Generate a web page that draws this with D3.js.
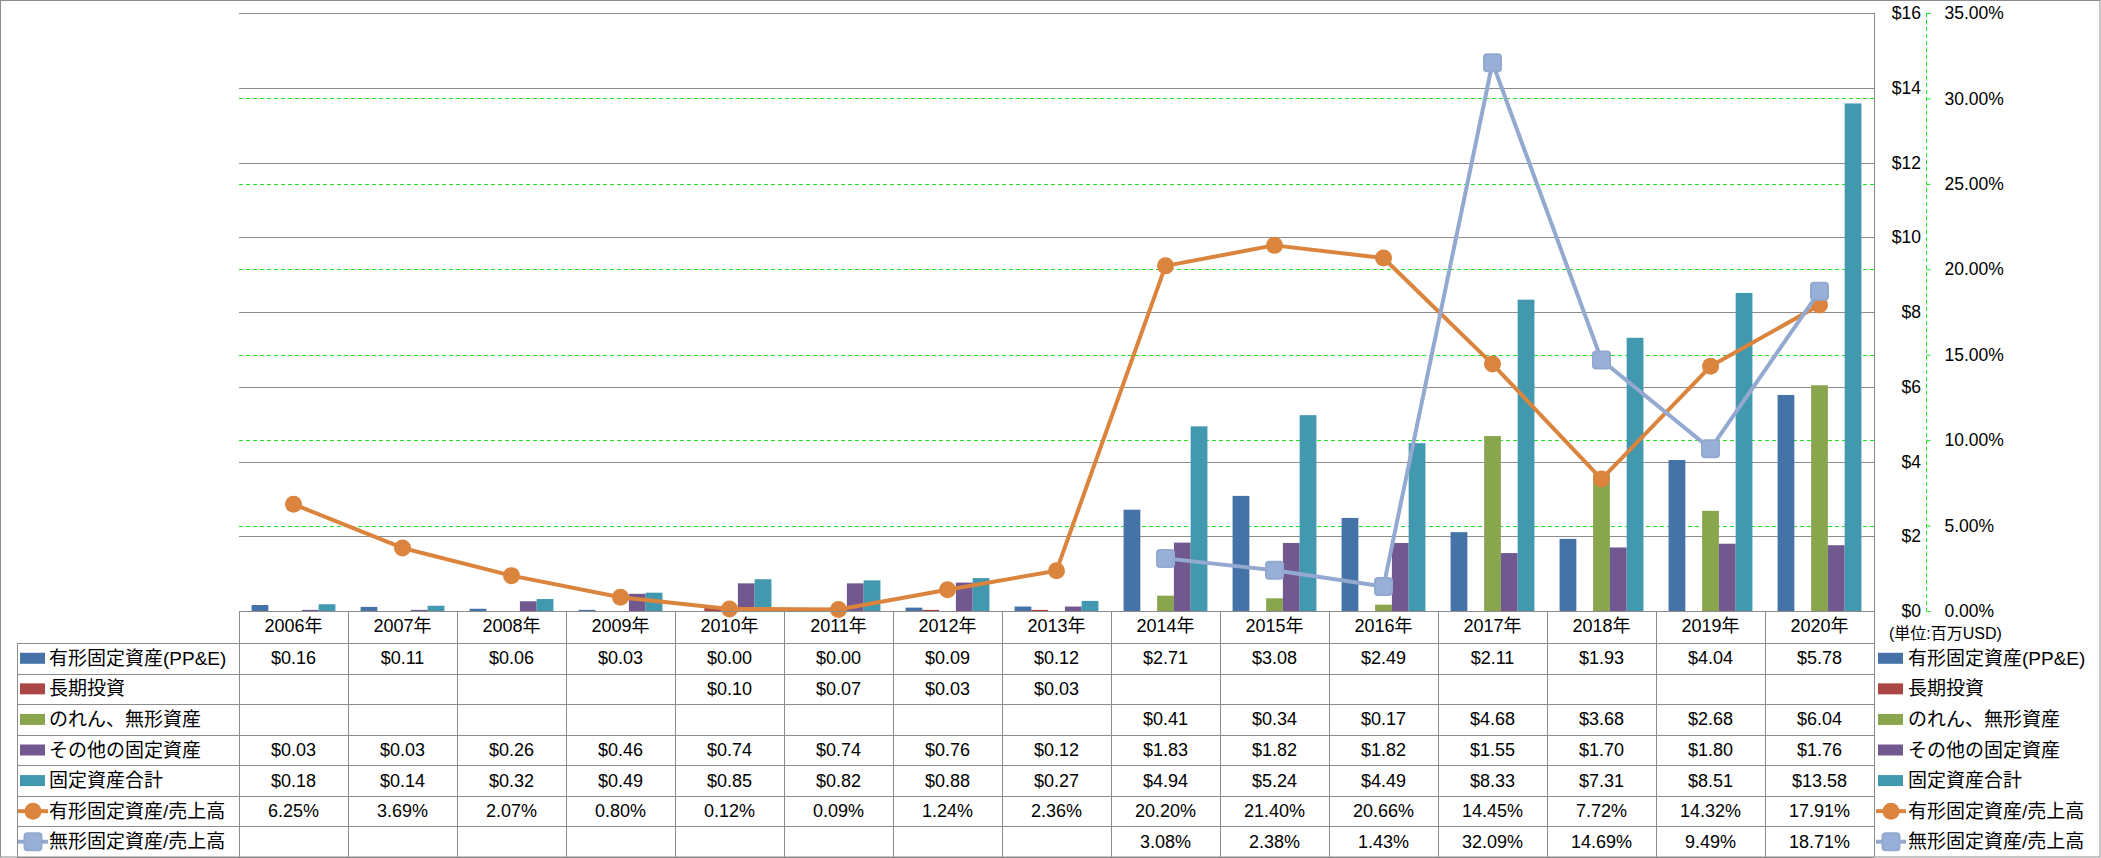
<!DOCTYPE html>
<html>
<head>
<meta charset="utf-8">
<script src="https://cdn.jsdelivr.net/npm/d3@7"></script>
<style>
  html, body { margin: 0; padding: 0; background: #fff; }
  svg { display: block; font-family: 'Liberation Sans', 'Noto Sans CJK JP', sans-serif; }
</style>
</head>
<body>
<svg id="chart" width="2101" height="858"></svg>
<script>
// ---------------- data ----------------
const years = ["2006年","2007年","2008年","2009年","2010年","2011年","2012年","2013年","2014年","2015年","2016年","2017年","2018年","2019年","2020年"];
const ppe      = [0.16,0.11,0.06,0.03,0.00,0.00,0.09,0.12,2.71,3.08,2.49,2.11,1.93,4.04,5.78];
const ltInvest = [null,null,null,null,0.10,0.07,0.03,0.03,null,null,null,null,null,null,null];
const goodwill = [null,null,null,null,null,null,null,null,0.41,0.34,0.17,4.68,3.68,2.68,6.04];
const otherFA  = [0.03,0.03,0.26,0.46,0.74,0.74,0.76,0.12,1.83,1.82,1.82,1.55,1.70,1.80,1.76];
const totalFA  = [0.18,0.14,0.32,0.49,0.85,0.82,0.88,0.27,4.94,5.24,4.49,8.33,7.31,8.51,13.58];
const ppeRatio = [6.25,3.69,2.07,0.80,0.12,0.09,1.24,2.36,20.20,21.40,20.66,14.45,7.72,14.32,17.91];
const intRatio = [null,null,null,null,null,null,null,null,3.08,2.38,1.43,32.09,14.69,9.49,18.71];
const dollarTicks = [0,2,4,6,8,10,12,14,16];
const pctTicks = [0,5,10,15,20,25,30,35];
const unitLabel = "(単位:百万USD)";

const barSeries = [
  {name: "有形固定資産(PP&E)", values: ppe,      color: "#4572A7"},
  {name: "長期投資",           values: ltInvest, color: "#AA4643"},
  {name: "のれん、無形資産",   values: goodwill, color: "#89A54E"},
  {name: "その他の固定資産",   values: otherFA,  color: "#71588F"},
  {name: "固定資産合計",       values: totalFA,  color: "#4198AF"}
];
const lineSeries = [
  {name: "有形固定資産/売上高", values: ppeRatio, color: "#DB843D", marker: "circle"},
  {name: "無形固定資産/売上高", values: intRatio, color: "#93A9CF", marker: "square"}
];

// ---------------- layout ----------------
const W = 2101, H = 858;
const plotL = 239, plotR = 1874, plotT = 13, plotB = 611;
const labelL = 17;
const tableTop = plotB, headerB = 643, tableB = 857;
const nRows = 7;
const rowH = (tableB - headerB) / nRows;
const gridColor = "#8C8C8C";
const green = "#1EE61E";

const svg = d3.select("#chart");

const x = d3.scaleBand().domain(years).range([plotL, plotR]).padding(0);
const bw = x.bandwidth();
const gap = 1.5;
const barW = bw / (barSeries.length + gap);
const xInner = d3.scaleBand().domain(barSeries.map(d => d.name))
  .range([barW * gap / 2, bw - barW * gap / 2]).padding(0);
const y = d3.scaleLinear().domain([0, 16]).range([plotB, plotT]);
const yP = d3.scaleLinear().domain([0, 35]).range([plotB, plotT]);

// outer border
svg.append("rect").attr("x", 0.5).attr("y", 0.5).attr("width", W - 1.5).attr("height", H - 1.5)
  .attr("fill", "none").attr("stroke", gridColor).attr("stroke-width", 1);

// gray gridlines ($)
svg.append("g").selectAll("line").data(dollarTicks.filter(d => d > 0)).join("line")
  .attr("x1", plotL).attr("x2", plotR)
  .attr("y1", d => Math.round(y(d)) + 0.5).attr("y2", d => Math.round(y(d)) + 0.5)
  .attr("stroke", gridColor).attr("stroke-width", 1);

// green dashed gridlines (%)
svg.append("g").selectAll("line").data(pctTicks.filter(d => d > 0 && d < 35)).join("line")
  .attr("x1", plotL).attr("x2", plotR)
  .attr("y1", d => Math.round(yP(d)) + 0.5).attr("y2", d => Math.round(yP(d)) + 0.5)
  .attr("stroke", green).attr("stroke-width", 1).attr("stroke-dasharray", "4,3");

// bars
const barG = svg.append("g");
barSeries.forEach(s => {
  barG.append("g").selectAll("rect")
    .data(s.values.map((v, i) => ({v, year: years[i]})).filter(d => d.v != null && d.v > 0))
    .join("rect")
    .attr("x", d => x(d.year) + xInner(s.name))
    .attr("width", xInner.bandwidth())
    .attr("y", d => y(d.v))
    .attr("height", d => y(0) - y(d.v))
    .attr("fill", s.color);
});

// lines
lineSeries.forEach(s => {
  const pts = s.values.map((v, i) => ({v, year: years[i]})).filter(d => d.v != null);
  const line = d3.line().x(d => x(d.year) + bw / 2).y(d => yP(d.v));
  svg.append("path").datum(pts).attr("d", line)
    .attr("fill", "none").attr("stroke", s.color).attr("stroke-width", 4)
    .attr("stroke-linejoin", "round");
  const mg = svg.append("g");
  if (s.marker === "circle") {
    mg.selectAll("circle").data(pts).join("circle")
      .attr("cx", d => x(d.year) + bw / 2).attr("cy", d => yP(d.v)).attr("r", 8.5)
      .attr("fill", s.color);
  } else {
    mg.selectAll("rect").data(pts).join("rect")
      .attr("x", d => x(d.year) + bw / 2 - 8.5).attr("y", d => yP(d.v) - 8.5)
      .attr("width", 17).attr("height", 17).attr("rx", 3)
      .attr("fill", "#98AFD7").attr("stroke", s.color).attr("stroke-width", 2);
  }
});

// right vertical axis line (gray) through plot and table
svg.append("line").attr("x1", plotR + 0.5).attr("x2", plotR + 0.5)
  .attr("y1", plotT).attr("y2", tableB).attr("stroke", gridColor);

// $ axis labels
const axisFont = 17.5;
const dollarAxis = d3.axisLeft(y).tickValues(dollarTicks).tickSize(0).tickPadding(0)
  .tickFormat(d => "$" + d);
const ga = svg.append("g").attr("transform", "translate(1921,0)").call(dollarAxis);
ga.select(".domain").remove();
ga.selectAll("text").attr("font-size", axisFont).attr("fill", "#000")
  .attr("font-family", "'Liberation Sans', 'Noto Sans CJK JP', sans-serif");

// % axis (green dashed)
const pctAxis = d3.axisRight(yP).tickValues(pctTicks).tickSize(4).tickPadding(14)
  .tickFormat(d => d.toFixed(2) + "%");
const gp = svg.append("g").attr("transform", "translate(1926.5,0)").call(pctAxis);
gp.select(".domain").attr("stroke", green).attr("stroke-dasharray", "4,3").attr("d", `M0,${plotT}V${plotB}`);
gp.selectAll(".tick line").attr("stroke", green);
gp.selectAll("text").attr("font-size", axisFont).attr("fill", "#000")
  .attr("font-family", "'Liberation Sans', 'Noto Sans CJK JP', sans-serif");

// ---------------- data table ----------------
const tbl = svg.append("g");
// horizontal lines
tbl.append("line").attr("x1", plotL).attr("x2", plotR).attr("y1", tableTop + 0.5).attr("y2", tableTop + 0.5).attr("stroke", gridColor);
d3.range(nRows + 1).forEach(i => {
  const yy = Math.round(headerB + i * rowH) + 0.5;
  tbl.append("line").attr("x1", labelL).attr("x2", plotR).attr("y1", yy).attr("y2", yy).attr("stroke", gridColor);
});
// vertical lines
tbl.append("line").attr("x1", labelL + 0.5).attr("x2", labelL + 0.5).attr("y1", headerB).attr("y2", tableB).attr("stroke", gridColor);
years.forEach(yr => {
  const xx = Math.round(x(yr)) + 0.5;
  tbl.append("line").attr("x1", xx).attr("x2", xx).attr("y1", tableTop).attr("y2", tableB).attr("stroke", gridColor);
});

// header years
tbl.selectAll("text.yr").data(years).join("text").attr("class", "yr")
  .attr("x", d => x(d) + bw / 2).attr("y", (tableTop + headerB) / 2 - 1)
  .attr("text-anchor", "middle").attr("dominant-baseline", "central")
  .attr("font-size", 18).attr("fill", "#000").text(d => d);

const rows = [
  ...barSeries.map(s => ({...s, type: "bar", fmt: v => "$" + v.toFixed(2)})),
  ...lineSeries.map(s => ({...s, type: "line", fmt: v => v.toFixed(2) + "%"}))
];

function drawKey(g, s, x0, cy) {
  if (s.type === "bar") {
    g.append("rect").attr("x", x0 + 2).attr("y", cy - 5.5).attr("width", 25).attr("height", 11).attr("fill", s.color);
  } else {
    g.append("line").attr("x1", x0).attr("x2", x0 + 30).attr("y1", cy).attr("y2", cy)
      .attr("stroke", s.color).attr("stroke-width", 4);
    if (s.marker === "circle") {
      g.append("circle").attr("cx", x0 + 15).attr("cy", cy).attr("r", 8.5).attr("fill", s.color);
    } else {
      g.append("rect").attr("x", x0 + 6.5).attr("y", cy - 8.5).attr("width", 17).attr("height", 17).attr("rx", 3)
        .attr("fill", "#98AFD7").attr("stroke", s.color).attr("stroke-width", 2);
    }
  }
}

rows.forEach((s, r) => {
  const cy = headerB + rowH * (r + 0.5);
  // left label
  drawKey(tbl, s, 18, cy);
  tbl.append("text").attr("x", 49).attr("y", cy).attr("dominant-baseline", "central")
    .attr("font-size", 19).attr("fill", "#000").text(s.name);
  // values
  s.values.forEach((v, i) => {
    if (v == null) return;
    tbl.append("text").attr("x", x(years[i]) + bw / 2).attr("y", cy)
      .attr("text-anchor", "middle").attr("dominant-baseline", "central")
      .attr("font-size", 18).attr("fill", "#000").text(s.fmt(v));
  });
  // right legend
  drawKey(tbl, s, 1876, cy);
  tbl.append("text").attr("x", 1908).attr("y", cy).attr("dominant-baseline", "central")
    .attr("font-size", 19).attr("fill", "#000").text(s.name);
});

// unit label
svg.append("text").attr("x", 1889).attr("y", 633).attr("dominant-baseline", "central")
  .attr("font-size", 16).attr("fill", "#000").text(unitLabel);
</script>
</body>
</html>
